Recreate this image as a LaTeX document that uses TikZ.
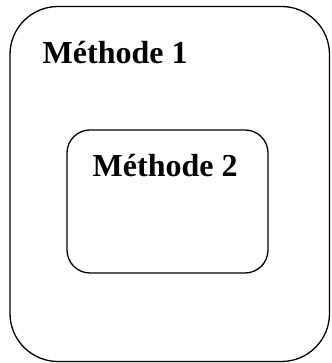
\documentclass[tikz,border=0pt]{standalone}
\usepackage{fontspec}
\setmainfont{Liberation Serif}
\usetikzlibrary{positioning}
\tikzset{
  methbox/.style={draw, line width=1.3pt, inner sep=0pt},
  methlabel/.style={anchor=base west, inner sep=0pt,
    font=\fontsize{32}{36}\selectfont\bfseries}
}
\begin{document}
\begin{tikzpicture}[x=1pt,y=1pt]
  \useasboundingbox (0,0) rectangle (331,363);
  % outer box
  \node[methbox, rounded corners=48pt, minimum width=319.5pt, minimum height=355pt]
    (meth1) at (169.75,179) {};
  % inner box
  \node[methbox, rounded corners=23pt, minimum width=201pt, minimum height=143pt]
    (meth2) at (167.5,161.5) {};
  \node[methlabel] (lab1) at (42.5,299.5) {Méthode 1};
  \node[methlabel] (lab2) at (92.5,186.5) {Méthode 2};
\end{tikzpicture}
\end{document}
